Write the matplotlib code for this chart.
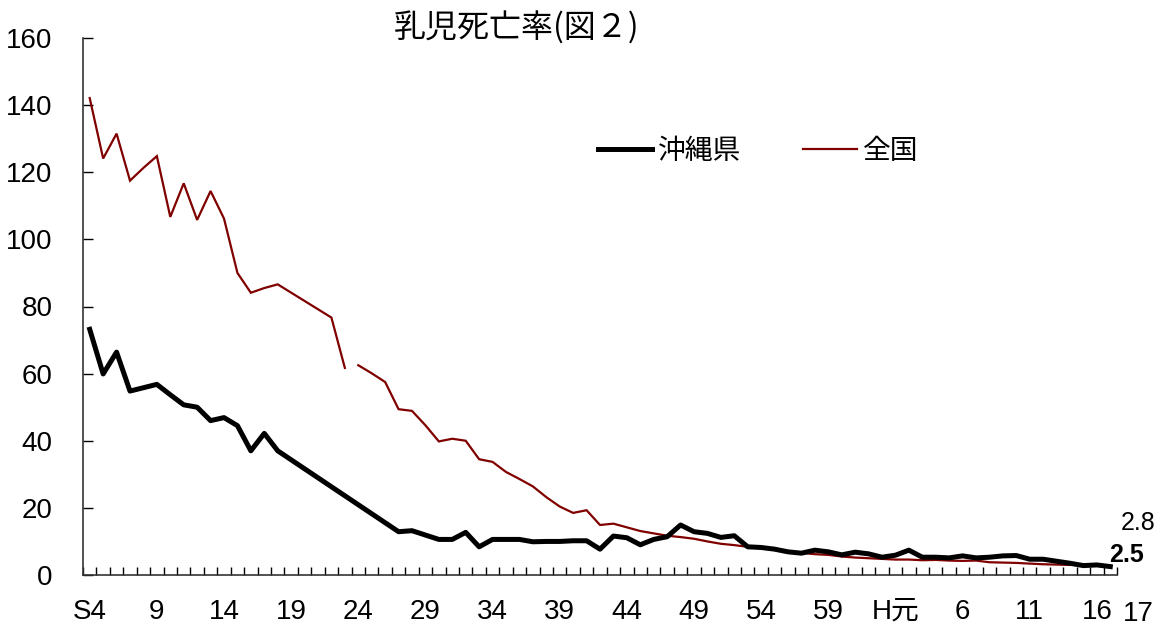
"""Infant mortality rate, Okinawa vs all Japan (S4 - H17)."""
import numpy as np
import matplotlib
matplotlib.use("Agg")
import matplotlib.pyplot as plt

NAN = np.nan

# categories: Showa 4..63, Heisei 1..17
years = [f"S{y}" for y in range(4, 64)] + [f"H{y}" for y in range(1, 18)]
tick_labels = ["S4", "9", "14", "19", "24", "29", "34", "39", "44", "49",
               "54", "59", "H元", "6", "11", "16"]
tick_every = 5

okinawa = [73.2, 59.9, 66.4, 54.8, 55.8, 56.8, 53.7, 50.7, 50.0, 46.0,
           46.9, 44.5, 37.0, 42.2, 37.0,
           NAN, NAN, NAN, NAN, NAN, NAN, NAN, NAN,
           12.9, 13.2, 11.9, 10.6, 10.6, 12.7, 8.4, 10.6, 10.6, 10.6,
           9.9, 10.0, 10.0, 10.2, 10.2, 7.7, 11.6, 11.1, 9.0, 10.6,
           11.4, 14.9, 12.9, 12.4, 11.2, 11.7, 8.4, 8.2, 7.7, 6.9,
           6.5, 7.4, 6.9, 6.0, 6.8, 6.3, 5.3,
           5.9, 7.4, 5.3, 5.3, 5.1, 5.7, 5.1, 5.3, 5.7, 5.8,
           4.7, 4.7, 4.1, 3.5, 2.8, 3.0, 2.5]

national = [142.1, 124.1, 131.5, 117.5, 121.3, 124.8, 106.7, 116.7, 105.8, 114.4,
            106.2, 90.0, 84.1, 85.5, 86.6,
            NAN, NAN, NAN,
            76.7, 61.7, 62.5, 60.1, 57.5, 49.4, 48.9, 44.6, 39.8, 40.6, 40.0,
            34.5, 33.7, 30.7, 28.6, 26.4, 23.2, 20.4, 18.5, 19.3, 14.9,
            15.3, 14.2, 13.1, 12.4, 11.7, 11.3, 10.8, 10.0, 9.3, 8.9,
            8.4, 7.9, 7.5, 7.1, 6.6, 6.2, 6.0, 5.5, 5.2, 5.0, 4.8,
            4.6, 4.6, 4.4, 4.5, 4.3, 4.2, 4.3, 3.8, 3.7, 3.6,
            3.4, 3.2, 3.1, 3.0, 3.0, 2.8, 2.8]
national_break = "S24"  # national series is drawn as two separate pieces

LATIN = "Liberation Sans"
CJK = "Noto Sans CJK JP"
plt.rcParams["font.family"] = [LATIN, CJK, "DejaVu Sans"]

x = np.arange(len(years))
ok = np.array(okinawa, dtype=float)
nat = np.array(national, dtype=float)

fig = plt.figure(figsize=(11.67, 6.30), dpi=100)
ax = fig.add_axes([83 / 1167, 55 / 630, 1034 / 1167, 537 / 630])

cut = years.index(national_break)
for sl in (slice(0, cut), slice(cut, None)):
    xs, ys = x[sl], nat[sl]
    m = ~np.isnan(ys)
    ax.plot(xs[m], ys[m], color="#800000", lw=1.6, solid_joinstyle="miter",
            label="全国" if sl.start == 0 else None, zorder=2)
m = ~np.isnan(ok)
ax.plot(x[m], ok[m], color="black", lw=3.6, label="沖縄県", zorder=3)

ax.set_xlim(-0.5, len(years) - 0.5)
ax.set_ylim(0, 160)
ax.set_yticks(range(0, 161, 20))
ax.tick_params(axis="y", direction="in", length=7, width=1, pad=22,
               labelsize=20)
ax.set_xticks(x[::tick_every])
ax.set_xticklabels(tick_labels)
ax.set_xticks(np.arange(len(years) + 1) - 0.5, minor=True)
ax.tick_params(axis="x", which="major", length=0, pad=17, labelsize=20)
ax.tick_params(axis="x", which="minor", direction="in", length=6, width=1)
for s in ("top", "right"):
    ax.spines[s].set_visible(False)
for s in ("left", "bottom"):
    ax.spines[s].set_color("#333333")
    ax.spines[s].set_linewidth(1.2)

# end-of-series labels
ax.annotate("17", xy=(x[-1], 0), xytext=(20, -28), textcoords="offset points",
            ha="center", va="center", fontsize=20, annotation_clip=False)
ax.annotate(f"{nat[-1]:.1f}", xy=(x[-1], nat[-1]), xytext=(20, 31),
            textcoords="offset points", ha="center", va="center",
            fontsize=18, annotation_clip=False)
ax.annotate(f"{ok[-1]:.1f}", xy=(x[-1], ok[-1]), xytext=(12, 8),
            textcoords="offset points", ha="center", va="center",
            fontsize=18, fontweight="bold", annotation_clip=False)

h, l = ax.get_legend_handles_labels()
order = [l.index("沖縄県"), l.index("全国")]
fig.legend([h[i] for i in order], [l[i] for i in order], loc="center left",
           bbox_to_anchor=(598 / 1167, 1 - 151 / 630), ncol=2, frameon=False,
           prop={"family": [CJK], "size": 20}, handlelength=1.95,
           handletextpad=0.22, columnspacing=2.2, borderpad=0, borderaxespad=0)

fig.text(517 / 1167, 1 - 28 / 630, "乳児死亡率(図２)", ha="center", va="center",
         fontsize=23, family=[CJK])

fig.savefig("out.png", dpi=100)
